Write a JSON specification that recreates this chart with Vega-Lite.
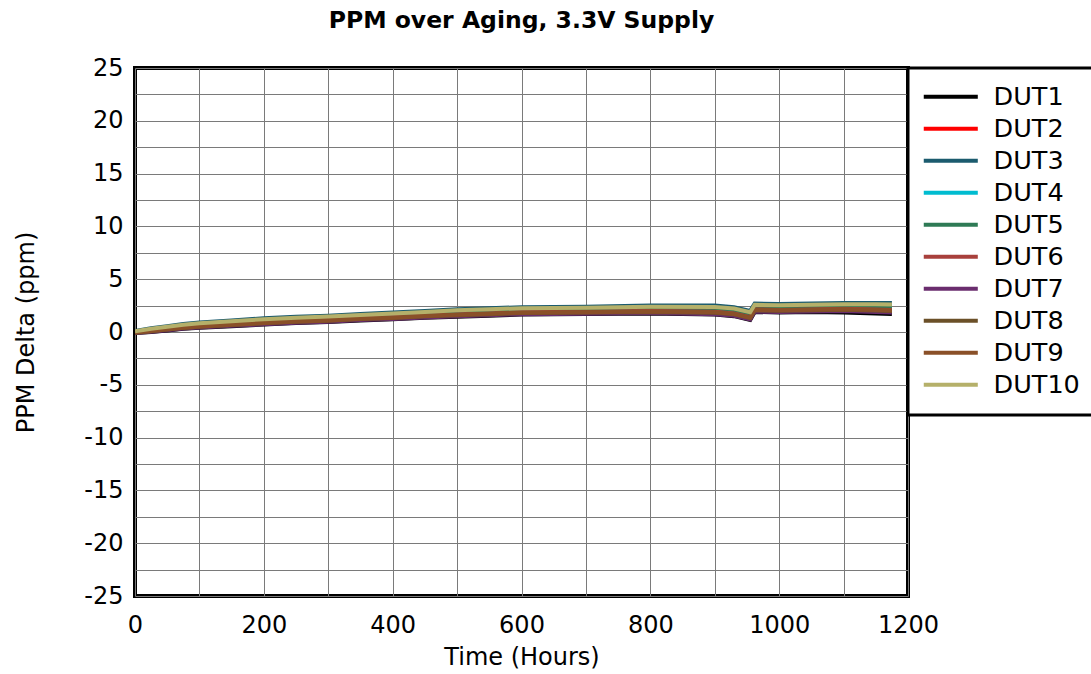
{
  "$schema": "https://vega.github.io/schema/vega-lite/v6.json",
  "width": 773,
  "height": 528,
  "autosize": "none",
  "padding": {"left": 135, "top": 68, "right": 183, "bottom": 78},
  "background": "white",
  "title": {"text": "PPM over Aging, 3.3V Supply", "font": "DejaVu Sans", "fontSize": 23.5, "fontWeight": "bold", "color": "black", "offset": 24, "anchor": "middle"},
  "config": {
    "view": {"stroke": "black", "strokeWidth": 4},
    "font": "DejaVu Sans"
  },
  "data": {"values": [
    {"h":0,"d":"DUT1","v":-0.1},{"h":0,"d":"DUT2","v":-0.03},{"h":0,"d":"DUT3","v":0.1},{"h":0,"d":"DUT4","v":0.01},{"h":0,"d":"DUT5","v":0.03},{"h":0,"d":"DUT6","v":-0.04},{"h":0,"d":"DUT7","v":-0.09},{"h":0,"d":"DUT8","v":-0.06},{"h":0,"d":"DUT9","v":-0.05},{"h":0,"d":"DUT10","v":0.07},
    {"h":25,"d":"DUT1","v":0.0},{"h":25,"d":"DUT2","v":0.12},{"h":25,"d":"DUT3","v":0.35},{"h":25,"d":"DUT4","v":0.19},{"h":25,"d":"DUT5","v":0.23},{"h":25,"d":"DUT6","v":0.11},{"h":25,"d":"DUT7","v":0.02},{"h":25,"d":"DUT8","v":0.07},{"h":25,"d":"DUT9","v":0.09},{"h":25,"d":"DUT10","v":0.3},
    {"h":50,"d":"DUT1","v":0.15},{"h":50,"d":"DUT2","v":0.29},{"h":50,"d":"DUT3","v":0.55},{"h":50,"d":"DUT4","v":0.37},{"h":50,"d":"DUT5","v":0.41},{"h":50,"d":"DUT6","v":0.27},{"h":50,"d":"DUT7","v":0.17},{"h":50,"d":"DUT8","v":0.23},{"h":50,"d":"DUT9","v":0.25},{"h":50,"d":"DUT10","v":0.49},
    {"h":75,"d":"DUT1","v":0.3},{"h":75,"d":"DUT2","v":0.46},{"h":75,"d":"DUT3","v":0.75},{"h":75,"d":"DUT4","v":0.55},{"h":75,"d":"DUT5","v":0.59},{"h":75,"d":"DUT6","v":0.44},{"h":75,"d":"DUT7","v":0.32},{"h":75,"d":"DUT8","v":0.39},{"h":75,"d":"DUT9","v":0.41},{"h":75,"d":"DUT10","v":0.68},
    {"h":100,"d":"DUT1","v":0.4},{"h":100,"d":"DUT2","v":0.58},{"h":100,"d":"DUT3","v":0.9},{"h":100,"d":"DUT4","v":0.68},{"h":100,"d":"DUT5","v":0.73},{"h":100,"d":"DUT6","v":0.55},{"h":100,"d":"DUT7","v":0.43},{"h":100,"d":"DUT8","v":0.5},{"h":100,"d":"DUT9","v":0.53},{"h":100,"d":"DUT10","v":0.83},
    {"h":150,"d":"DUT1","v":0.55},{"h":150,"d":"DUT2","v":0.74},{"h":150,"d":"DUT3","v":1.1},{"h":150,"d":"DUT4","v":0.85},{"h":150,"d":"DUT5","v":0.91},{"h":150,"d":"DUT6","v":0.72},{"h":150,"d":"DUT7","v":0.58},{"h":150,"d":"DUT8","v":0.66},{"h":150,"d":"DUT9","v":0.69},{"h":150,"d":"DUT10","v":1.02},
    {"h":200,"d":"DUT1","v":0.7},{"h":200,"d":"DUT2","v":0.91},{"h":200,"d":"DUT3","v":1.3},{"h":200,"d":"DUT4","v":1.03},{"h":200,"d":"DUT5","v":1.09},{"h":200,"d":"DUT6","v":0.88},{"h":200,"d":"DUT7","v":0.73},{"h":200,"d":"DUT8","v":0.82},{"h":200,"d":"DUT9","v":0.85},{"h":200,"d":"DUT10","v":1.21},
    {"h":250,"d":"DUT1","v":0.85},{"h":250,"d":"DUT2","v":1.06},{"h":250,"d":"DUT3","v":1.45},{"h":250,"d":"DUT4","v":1.18},{"h":250,"d":"DUT5","v":1.24},{"h":250,"d":"DUT6","v":1.03},{"h":250,"d":"DUT7","v":0.88},{"h":250,"d":"DUT8","v":0.97},{"h":250,"d":"DUT9","v":1.0},{"h":250,"d":"DUT10","v":1.36},
    {"h":300,"d":"DUT1","v":0.95},{"h":300,"d":"DUT2","v":1.16},{"h":300,"d":"DUT3","v":1.55},{"h":300,"d":"DUT4","v":1.28},{"h":300,"d":"DUT5","v":1.34},{"h":300,"d":"DUT6","v":1.13},{"h":300,"d":"DUT7","v":0.98},{"h":300,"d":"DUT8","v":1.07},{"h":300,"d":"DUT9","v":1.1},{"h":300,"d":"DUT10","v":1.46},
    {"h":350,"d":"DUT1","v":1.1},{"h":350,"d":"DUT2","v":1.31},{"h":350,"d":"DUT3","v":1.7},{"h":350,"d":"DUT4","v":1.43},{"h":350,"d":"DUT5","v":1.49},{"h":350,"d":"DUT6","v":1.28},{"h":350,"d":"DUT7","v":1.13},{"h":350,"d":"DUT8","v":1.22},{"h":350,"d":"DUT9","v":1.25},{"h":350,"d":"DUT10","v":1.61},
    {"h":400,"d":"DUT1","v":1.2},{"h":400,"d":"DUT2","v":1.43},{"h":400,"d":"DUT3","v":1.85},{"h":400,"d":"DUT4","v":1.56},{"h":400,"d":"DUT5","v":1.62},{"h":400,"d":"DUT6","v":1.4},{"h":400,"d":"DUT7","v":1.23},{"h":400,"d":"DUT8","v":1.33},{"h":400,"d":"DUT9","v":1.36},{"h":400,"d":"DUT10","v":1.75},
    {"h":450,"d":"DUT1","v":1.35},{"h":450,"d":"DUT2","v":1.58},{"h":450,"d":"DUT3","v":2.0},{"h":450,"d":"DUT4","v":1.71},{"h":450,"d":"DUT5","v":1.77},{"h":450,"d":"DUT6","v":1.55},{"h":450,"d":"DUT7","v":1.38},{"h":450,"d":"DUT8","v":1.48},{"h":450,"d":"DUT9","v":1.51},{"h":450,"d":"DUT10","v":1.9},
    {"h":500,"d":"DUT1","v":1.45},{"h":500,"d":"DUT2","v":1.7},{"h":500,"d":"DUT3","v":2.15},{"h":500,"d":"DUT4","v":1.84},{"h":500,"d":"DUT5","v":1.91},{"h":500,"d":"DUT6","v":1.66},{"h":500,"d":"DUT7","v":1.49},{"h":500,"d":"DUT8","v":1.59},{"h":500,"d":"DUT9","v":1.63},{"h":500,"d":"DUT10","v":2.05},
    {"h":550,"d":"DUT1","v":1.55},{"h":550,"d":"DUT2","v":1.8},{"h":550,"d":"DUT3","v":2.25},{"h":550,"d":"DUT4","v":1.94},{"h":550,"d":"DUT5","v":2.01},{"h":550,"d":"DUT6","v":1.76},{"h":550,"d":"DUT7","v":1.59},{"h":550,"d":"DUT8","v":1.69},{"h":550,"d":"DUT9","v":1.73},{"h":550,"d":"DUT10","v":2.15},
    {"h":600,"d":"DUT1","v":1.65},{"h":600,"d":"DUT2","v":1.9},{"h":600,"d":"DUT3","v":2.35},{"h":600,"d":"DUT4","v":2.04},{"h":600,"d":"DUT5","v":2.11},{"h":600,"d":"DUT6","v":1.86},{"h":600,"d":"DUT7","v":1.69},{"h":600,"d":"DUT8","v":1.79},{"h":600,"d":"DUT9","v":1.83},{"h":600,"d":"DUT10","v":2.25},
    {"h":700,"d":"DUT1","v":1.7},{"h":700,"d":"DUT2","v":1.95},{"h":700,"d":"DUT3","v":2.4},{"h":700,"d":"DUT4","v":2.09},{"h":700,"d":"DUT5","v":2.16},{"h":700,"d":"DUT6","v":1.91},{"h":700,"d":"DUT7","v":1.74},{"h":700,"d":"DUT8","v":1.84},{"h":700,"d":"DUT9","v":1.88},{"h":700,"d":"DUT10","v":2.3},
    {"h":800,"d":"DUT1","v":1.75},{"h":800,"d":"DUT2","v":2.01},{"h":800,"d":"DUT3","v":2.5},{"h":800,"d":"DUT4","v":2.16},{"h":800,"d":"DUT5","v":2.24},{"h":800,"d":"DUT6","v":1.98},{"h":800,"d":"DUT7","v":1.79},{"h":800,"d":"DUT8","v":1.9},{"h":800,"d":"DUT9","v":1.94},{"h":800,"d":"DUT10","v":2.39},
    {"h":900,"d":"DUT1","v":1.65},{"h":900,"d":"DUT2","v":1.95},{"h":900,"d":"DUT3","v":2.5},{"h":900,"d":"DUT4","v":2.12},{"h":900,"d":"DUT5","v":2.2},{"h":900,"d":"DUT6","v":1.91},{"h":900,"d":"DUT7","v":1.69},{"h":900,"d":"DUT8","v":1.82},{"h":900,"d":"DUT9","v":1.86},{"h":900,"d":"DUT10","v":2.37},
    {"h":930,"d":"DUT1","v":1.5},{"h":930,"d":"DUT2","v":1.8},{"h":930,"d":"DUT3","v":2.35},{"h":930,"d":"DUT4","v":1.97},{"h":930,"d":"DUT5","v":2.05},{"h":930,"d":"DUT6","v":1.76},{"h":930,"d":"DUT7","v":1.54},{"h":930,"d":"DUT8","v":1.67},{"h":930,"d":"DUT9","v":1.71},{"h":930,"d":"DUT10","v":2.22},
    {"h":955,"d":"DUT1","v":1.15},{"h":955,"d":"DUT2","v":1.45},{"h":955,"d":"DUT3","v":2.0},{"h":955,"d":"DUT4","v":1.62},{"h":955,"d":"DUT5","v":1.7},{"h":955,"d":"DUT6","v":1.41},{"h":955,"d":"DUT7","v":1.19},{"h":955,"d":"DUT8","v":1.32},{"h":955,"d":"DUT9","v":1.36},{"h":955,"d":"DUT10","v":1.87},
    {"h":962,"d":"DUT1","v":1.9},{"h":962,"d":"DUT2","v":2.18},{"h":962,"d":"DUT3","v":2.7},{"h":962,"d":"DUT4","v":2.34},{"h":962,"d":"DUT5","v":2.42},{"h":962,"d":"DUT6","v":2.14},{"h":962,"d":"DUT7","v":1.94},{"h":962,"d":"DUT8","v":2.06},{"h":962,"d":"DUT9","v":2.1},{"h":962,"d":"DUT10","v":2.58},
    {"h":1000,"d":"DUT1","v":1.85},{"h":1000,"d":"DUT2","v":2.13},{"h":1000,"d":"DUT3","v":2.65},{"h":1000,"d":"DUT4","v":2.29},{"h":1000,"d":"DUT5","v":2.37},{"h":1000,"d":"DUT6","v":2.09},{"h":1000,"d":"DUT7","v":1.89},{"h":1000,"d":"DUT8","v":2.01},{"h":1000,"d":"DUT9","v":2.05},{"h":1000,"d":"DUT10","v":2.53},
    {"h":1050,"d":"DUT1","v":1.9},{"h":1050,"d":"DUT2","v":2.18},{"h":1050,"d":"DUT3","v":2.7},{"h":1050,"d":"DUT4","v":2.34},{"h":1050,"d":"DUT5","v":2.42},{"h":1050,"d":"DUT6","v":2.14},{"h":1050,"d":"DUT7","v":1.94},{"h":1050,"d":"DUT8","v":2.06},{"h":1050,"d":"DUT9","v":2.1},{"h":1050,"d":"DUT10","v":2.58},
    {"h":1100,"d":"DUT1","v":1.85},{"h":1100,"d":"DUT2","v":2.23},{"h":1100,"d":"DUT3","v":2.75},{"h":1100,"d":"DUT4","v":2.39},{"h":1100,"d":"DUT5","v":2.47},{"h":1100,"d":"DUT6","v":2.19},{"h":1100,"d":"DUT7","v":1.99},{"h":1100,"d":"DUT8","v":2.11},{"h":1100,"d":"DUT9","v":2.15},{"h":1100,"d":"DUT10","v":2.63},
    {"h":1150,"d":"DUT1","v":1.75},{"h":1150,"d":"DUT2","v":2.17},{"h":1150,"d":"DUT3","v":2.75},{"h":1150,"d":"DUT4","v":2.35},{"h":1150,"d":"DUT5","v":2.44},{"h":1150,"d":"DUT6","v":2.12},{"h":1150,"d":"DUT7","v":1.9},{"h":1150,"d":"DUT8","v":2.03},{"h":1150,"d":"DUT9","v":2.08},{"h":1150,"d":"DUT10","v":2.62},
    {"h":1175,"d":"DUT1","v":1.7},{"h":1175,"d":"DUT2","v":2.13},{"h":1175,"d":"DUT3","v":2.75},{"h":1175,"d":"DUT4","v":2.32},{"h":1175,"d":"DUT5","v":2.42},{"h":1175,"d":"DUT6","v":2.09},{"h":1175,"d":"DUT7","v":1.85},{"h":1175,"d":"DUT8","v":1.99},{"h":1175,"d":"DUT9","v":2.04},{"h":1175,"d":"DUT10","v":2.61}
  ]},
  "mark": {"type": "line", "strokeWidth": 4, "clip": true},
  "encoding": {
    "x": {
      "field": "h", "type": "quantitative",
      "scale": {"domain": [0, 1200], "nice": false},
      "axis": {
        "title": "Time (Hours)", "titleFont": "DejaVu Sans", "titleFontSize": 24, "titleFontWeight": "normal", "titleColor": "black", "titlePadding": 8,
        "values": [0,100,200,300,400,500,600,700,800,900,1000,1100,1200],
        "labelExpr": "datum.value % 200 == 0 ? datum.label : ''",
        "format": "d",
        "labelFont": "DejaVu Sans", "labelFontSize": 24, "labelColor": "black", "labelPadding": 17,
        "ticks": false, "domain": false,
        "grid": true, "gridColor": "#7a7a7a", "gridWidth": 1, "gridOpacity": 1,
        "labelOverlap": false, "labelFlush": false
      }
    },
    "y": {
      "field": "v", "type": "quantitative",
      "scale": {"domain": [-25, 25], "nice": false},
      "axis": {
        "title": "PPM Delta (ppm)", "titleFont": "DejaVu Sans", "titleFontSize": 24, "titleFontWeight": "normal", "titleColor": "black", "titlePadding": 45,
        "values": [-25,-22.5,-20,-17.5,-15,-12.5,-10,-7.5,-5,-2.5,0,2.5,5,7.5,10,12.5,15,17.5,20,22.5,25],
        "labelExpr": "datum.value % 5 == 0 ? '' + datum.value : ''",
        "labelFont": "DejaVu Sans", "labelFontSize": 24, "labelColor": "black", "labelPadding": 12,
        "ticks": false, "domain": false,
        "grid": true, "gridColor": "#7a7a7a", "gridWidth": 1, "gridOpacity": 1,
        "labelOverlap": false, "labelFlush": false
      }
    },
    "color": {
      "field": "d", "type": "nominal",
      "scale": {
        "domain": ["DUT1","DUT2","DUT3","DUT4","DUT5","DUT6","DUT7","DUT8","DUT9","DUT10"],
        "range": ["#000000","#ff0000","#1b5b6e","#00bcd0","#2e7a55","#a8403c","#6a2d6e","#6b5028","#8a5028","#b5b06a"]
      },
      "legend": {
        "title": null,
        "orient": "none", "legendX": 773, "legendY": 0,
        "strokeColor": "black", "padding": 16, "fillColor": "white",
        "symbolType": "M-1.5,0L4.74,0", "symbolSize": 300, "symbolStrokeWidth": 4,
        "labelFont": "DejaVu Sans", "labelFontSize": 25.5, "labelColor": "black", "labelOffset": 44,
        "labelExpr": "datum.label + '            '",
        "rowPadding": 5,
        "encode": {"legend": {"update": {"strokeWidth": {"value": 3}}}}
      }
    }
  }
}
